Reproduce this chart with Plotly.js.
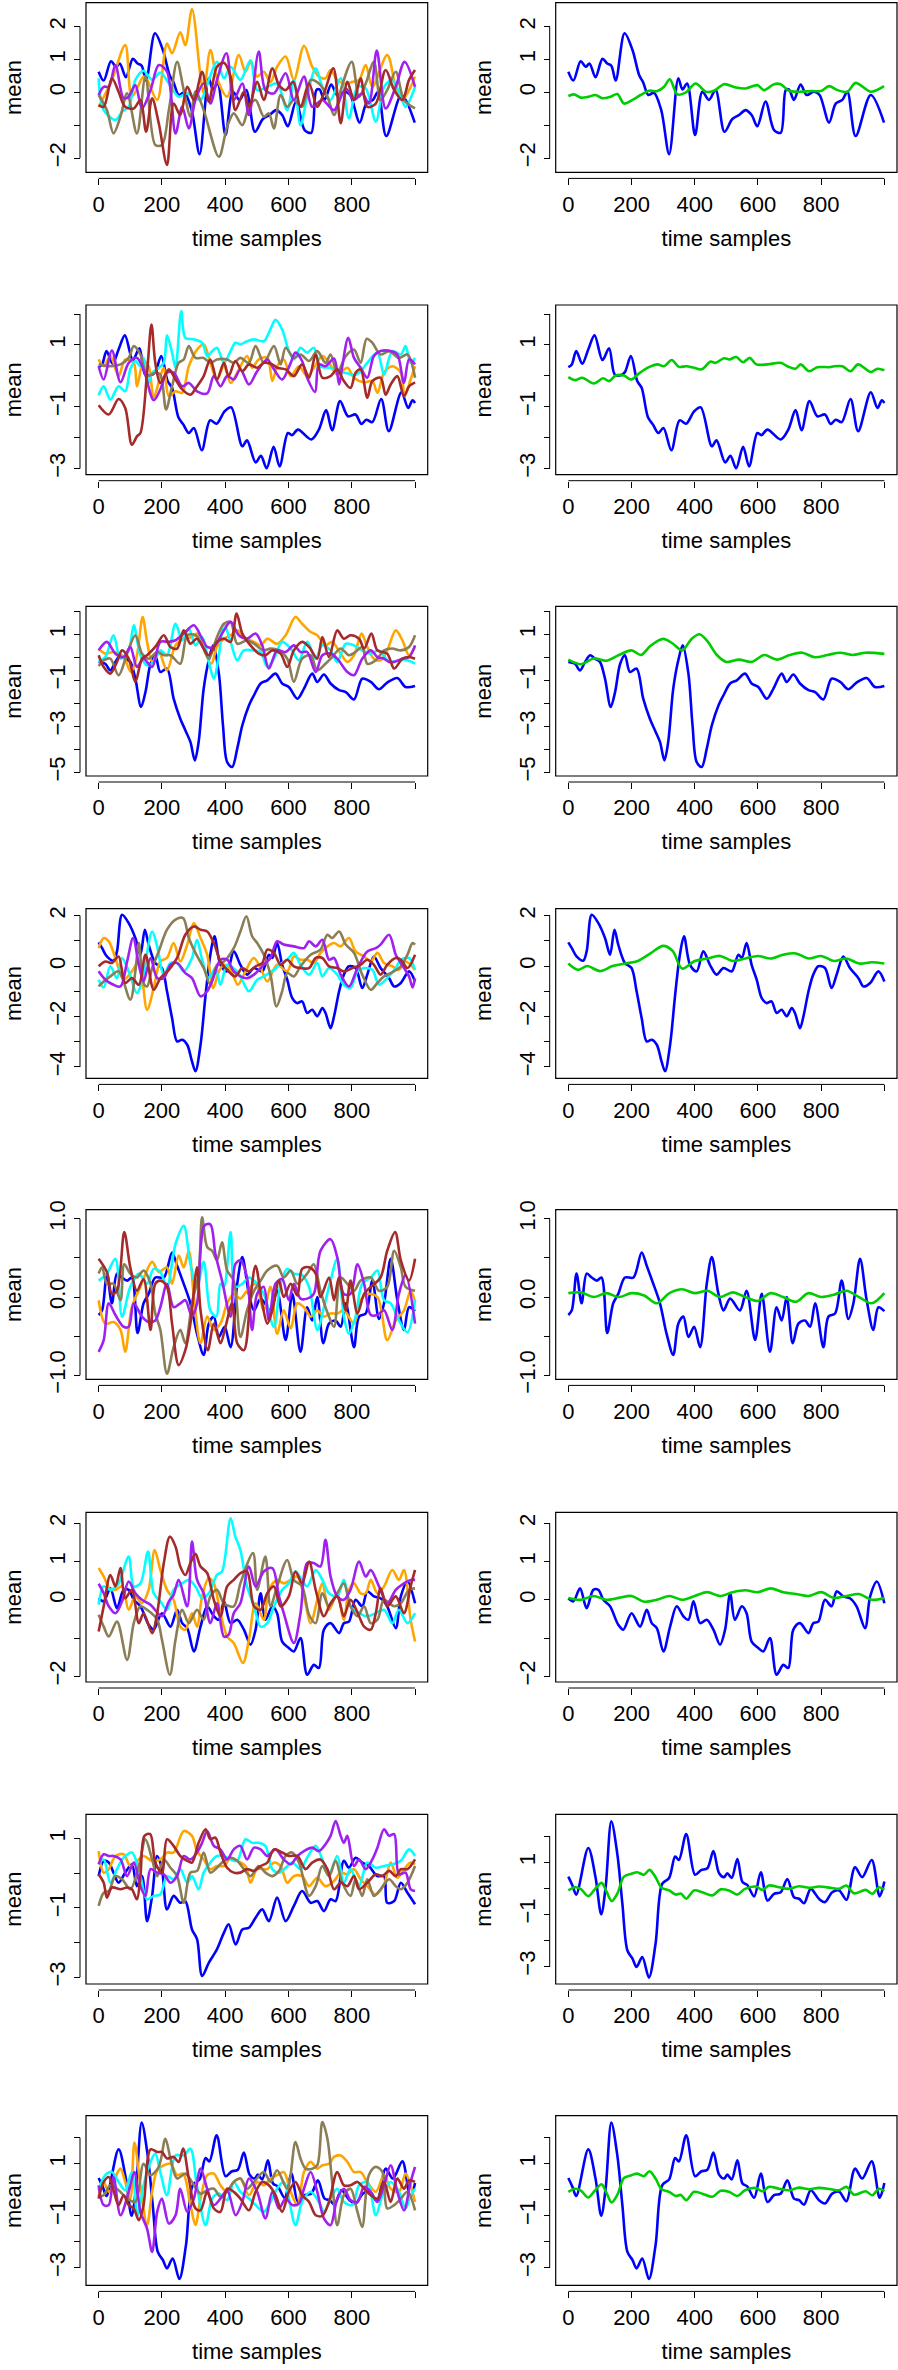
<!DOCTYPE html>
<html><head><meta charset="utf-8">
<script src="https://cdn.plot.ly/plotly-3.0.1.min.js"></script>
<style>html,body{margin:0;padding:0;background:#fff}#chart{width:898px;height:2370px}</style>
</head><body><div id="chart"></div>
<script>
// ---------- data (time sample, mean) ----------
const timeTicks = [0, 200, 400, 600, 800, 1000];
const timeLabels = ['0', '200', '400', '600', '800', ''];

const yTicks1 = [-2, -1, 0, 1, 2];            const yLabels1 = ['−2', '', '0', '1', '2'];
const yTicks2 = [-3, -2, -1, 0, 1, 2];        const yLabels2 = ['−3', '', '−1', '', '1', ''];
const yTicks3 = [-5, -4, -3, -2, -1, 0, 1, 2]; const yLabels3 = ['−5', '', '−3', '', '−1', '', '1', ''];
const yTicks4 = [-4, -3, -2, -1, 0, 1, 2];    const yLabels4 = ['−4', '', '−2', '', '0', '', '2'];
const yTicks5 = [-1, -0.5, 0, 0.5, 1];        const yLabels5 = ['−1.0', '', '0.0', '', '1.0'];
const yTicks6 = [-2, -1, 0, 1, 2];            const yLabels6 = ['−2', '', '0', '1', '2'];
const yTicks7 = [-3, -2, -1, 0, 1];           const yLabels7 = ['−3', '', '−1', '', '1'];
const yTicks8 = [-3, -2, -1, 0, 1, 2];        const yLabels8 = ['−3', '', '−1', '', '1', ''];

const r1Blue = [[0,0.63],[16,0.36],[39,0.95],[55,0.78],[67,0.88],[86,0.46],[108,1.02],[123,0.88],[136,0.81],[150,0.36],[178,1.8],[203,1.29],[224,0.53],[237,0.3],[253,-0.08],[271,-0.01],[294,-0.54],[319,-1.88],[348,0.43],[361,0.09],[376,0.27],[401,-1.3],[424,0.02],[445,-0.23],[466,0.07],[494,-1.2],[519,-0.81],[540,-0.69],[561,-0.54],[580,-0.69],[598,-1.03],[624,-0.28],[651,-1.15],[672,-1.23],[688,0.07],[698,0.09],[714,-0.23],[735,0.24],[754,-0.08],[777,0.02],[795,-0.08],[825,-0.92],[846,-0.34],[867,-0.23],[883,0.02],[909,-1.33],[957,-0.08],[999,-0.92]];
const r1Orange = [[0,-0.44],[42,0.38],[84,1.44],[105,-0.13],[142,0.48],[153,0.38],[185,-0.23],[216,1.49],[232,1.19],[258,1.83],[274,1.44],[295,2.54],[322,0.48],[332,-0.03],[353,1.29],[374,0.43],[406,-0.13],[443,1.14],[464,0.63],[480,0.93],[501,0.48],[522,0.63],[543,0.32],[564,0.78],[591,1.09],[617,0.38],[649,1.42],[675,0.78],[696,0.48],[717,0.43],[733,0.68],[754,0.38],[775,0.27],[802,0.32],[823,0.38],[844,0.83],[865,0.17],[912,1.14],[939,0.17],[960,-0.23],[981,0.07],[1000,0.48]];
const r1Cyan = [[0,0.43],[16,-0.54],[53,-0.84],[74,-0.59],[95,-0.44],[116,0.38],[142,0.66],[169,0.38],[195,0.6],[222,0.27],[253,-0.13],[280,-0.03],[322,-0.23],[348,0.38],[374,0.93],[396,0.43],[417,0.78],[448,0.38],[480,0.98],[501,0.07],[533,0.17],[564,0.27],[596,-0.54],[617,0.38],[638,-1.0],[659,-0.13],[686,0.73],[707,0.17],[733,-0.23],[765,0.43],[791,-0.79],[818,0.17],[844,0.12],[876,-0.89],[902,0.17],[928,0.38],[955,-0.13],[970,-0.44],[1000,0.17]];
const r1Olive = [[0,-0.08],[26,-0.54],[47,-1.25],[69,-0.74],[90,-0.03],[121,-1.25],[148,0.48],[179,-1.6],[200,-1.6],[222,-0.54],[248,0.93],[269,0.07],[290,-0.74],[306,0.03],[332,-0.54],[380,-1.96],[406,-1.05],[427,-0.64],[454,-1.0],[475,-0.44],[496,-0.23],[522,-0.74],[538,-0.64],[554,-1.1],[575,-0.08],[596,-0.44],[617,-0.23],[643,-0.44],[670,0.38],[696,0.27],[723,-0.13],[744,-0.69],[765,0.07],[800,0.93],[823,-0.13],[844,0.27],[870,0.93],[891,-0.23],[912,0.07],[939,0.63],[965,-0.23],[1000,-0.49]];
const r1Purple = [[0,-0.08],[16,0.17],[32,0.17],[53,0.83],[79,-0.18],[95,-0.13],[116,0.22],[137,-0.49],[164,0.07],[190,0.83],[216,0.63],[243,-1.25],[264,-0.44],[285,-1.1],[306,-0.23],[332,0.27],[353,-0.34],[374,0.38],[404,1.19],[427,-0.23],[454,0.27],[475,-0.69],[506,1.24],[527,0.07],[554,-0.03],[591,0.58],[617,-0.23],[649,0.48],[675,-0.44],[707,-0.23],[744,-0.54],[781,0.12],[807,-0.23],[833,-0.03],[854,-0.34],[879,1.27],[907,-0.49],[939,0.17],[967,0.93],[1000,0.17]];
const r1Brown = [[0,-0.39],[16,-0.44],[42,0.43],[63,0.02],[84,-0.44],[111,-0.49],[132,-0.23],[150,-1.2],[169,-0.18],[190,-0.94],[216,-2.21],[237,-0.34],[258,-0.69],[280,0.17],[301,-0.23],[327,0.63],[348,-0.28],[374,0.78],[396,0.9],[417,0.48],[432,-0.54],[459,0.02],[475,-0.44],[501,0.32],[522,-0.23],[549,0.73],[570,0.22],[591,0.07],[615,0.32],[638,-0.44],[665,0.27],[691,-0.44],[712,-0.03],[742,0.73],[765,-0.94],[786,0.32],[807,-0.23],[828,0.43],[849,-0.44],[876,-0.34],[907,0.68],[934,0.07],[960,-0.23],[981,0.38],[1000,0.68]];
const r1Green = [[0,-0.11],[18,-0.06],[39,-0.16],[65,-0.13],[86,-0.08],[108,-0.18],[134,-0.13],[155,-0.05],[176,-0.34],[203,-0.23],[229,-0.08],[255,0.05],[282,0.04],[303,0.17],[321,0.4],[345,-0.06],[371,-0.01],[403,0.27],[435,0.02],[461,0.05],[493,0.25],[530,0.15],[561,0.12],[598,0.22],[619,0.07],[651,0.25],[672,0.25],[698,0.05],[730,0.02],[772,0.04],[799,0.04],[825,0.19],[851,0.07],[883,0.02],[909,0.29],[957,0.02],[999,0.19]];

const r2Blue = [[0,0.28],[11,0.37],[25,0.8],[44,0.39],[63,0.85],[83,1.31],[108,0.51],[129,0.89],[147,0.04],[166,0.02],[179,0.12],[198,0.64],[218,-0.17],[232,-0.39],[252,-1.34],[268,-1.58],[285,-1.85],[301,-1.69],[326,-2.41],[352,-1.44],[373,-1.55],[398,-1.15],[419,-1.02],[454,-2.28],[469,-2.09],[496,-2.8],[513,-2.59],[531,-2.99],[553,-2.3],[572,-2.93],[598,-1.85],[611,-1.92],[630,-1.74],[672,-2.06],[696,-1.74],[719,-1.11],[738,-1.76],[763,-0.82],[788,-1.31],[812,-1.25],[830,-1.56],[846,-1.42],[865,-1.5],[893,-0.75],[917,-1.79],[957,-0.53],[978,-1.04],[992,-0.79],[1000,-0.88]];
const r2Orange = [[0,0.53],[16,0.31],[37,0.64],[63,-0.01],[84,0.53],[111,0.42],[121,-0.34],[142,0.48],[158,0.31],[174,-0.71],[195,-0.01],[206,0.26],[222,-0.66],[243,-0.5],[264,-0.55],[285,0.31],[311,0.85],[332,1.02],[353,0.42],[374,-0.12],[396,0.31],[417,-0.23],[438,0.1],[469,0.64],[485,0.26],[506,0.53],[533,0.58],[549,-0.17],[564,0.31],[585,0.53],[607,-0.01],[633,0.31],[659,-0.01],[680,0.26],[707,0.64],[728,0.42],[754,0.04],[786,0.26],[807,-0.06],[839,-0.21],[865,-0.17],[881,-0.55],[902,0.1],[928,0.31],[955,0.1],[967,-0.66],[986,-0.12],[1000,0.31]];
const r2Cyan = [[0,-0.63],[16,-0.34],[37,-0.77],[63,-0.34],[84,-0.5],[100,0.21],[116,0.48],[132,0.31],[142,0.58],[158,-0.23],[169,0.1],[190,0.26],[206,0.42],[216,1.31],[232,0.75],[243,0.26],[261,2.1],[274,1.23],[301,1.18],[327,1.07],[343,0.64],[359,0.8],[374,0.91],[396,0.42],[417,0.8],[432,1.07],[448,1.02],[469,1.12],[490,1.18],[522,1.12],[538,1.39],[559,1.81],[580,1.5],[601,0.8],[617,0.53],[638,0.91],[659,0.75],[680,0.91],[701,0.31],[733,0.26],[760,0.15],[786,0.08],[807,0.02],[828,0.15],[849,0.42],[881,0.75],[902,0.04],[928,0.8],[955,0.69],[970,0.96],[986,0.42],[1000,0.58]];
const r2Olive = [[0,0.37],[37,0.31],[69,0.37],[95,0.58],[111,0.96],[132,0.69],[153,-0.01],[179,0.1],[195,0.04],[213,-1.09],[232,-0.34],[253,0.42],[269,0.53],[285,0.96],[306,0.58],[332,0.58],[353,0.42],[374,0.53],[406,0.53],[427,0.42],[448,0.58],[475,0.42],[496,0.96],[522,0.42],[554,0.96],[575,0.37],[591,0.91],[617,0.58],[638,0.69],[665,0.48],[691,0.8],[717,0.42],[733,0.69],[754,0.1],[781,0.64],[807,0.85],[828,0.42],[847,1.2],[865,1.07],[891,0.69],[918,0.8],[949,0.58],[976,0.69],[1000,-0.06]];
const r2Purple = [[0,0.31],[16,-0.12],[42,0.82],[69,-0.21],[95,0.42],[121,0.58],[142,0.21],[174,-0.79],[195,-0.44],[216,0.1],[237,0.1],[264,-0.34],[285,-0.23],[311,-0.5],[343,-0.57],[364,-0.01],[385,-0.34],[406,-0.01],[427,-0.12],[448,0.21],[475,-0.28],[501,0.15],[533,0.53],[554,0.21],[580,-0.12],[607,0.42],[622,0.75],[643,0.48],[659,-0.06],[684,-0.52],[696,0.37],[717,0.31],[744,0.56],[760,-0.28],[770,0.31],[789,1.23],[807,0.58],[828,0.26],[849,-0.06],[870,0.64],[891,0.8],[923,0.8],[944,0.69],[965,-0.23],[981,0.53],[1000,0.37]];
const r2Brown = [[0,-0.95],[32,-1.25],[63,-0.75],[84,-1.04],[105,-2.23],[121,-1.96],[132,-1.85],[153,0.1],[167,1.66],[179,0.42],[195,-0.23],[222,0.21],[243,-0.12],[264,-0.44],[290,-0.61],[311,-0.34],[332,-0.01],[353,0.53],[374,-0.12],[396,0.42],[411,-0.01],[432,0.48],[454,0.15],[475,0.37],[501,0.26],[522,0.42],[549,0.37],[564,0.26],[591,0.21],[617,-0.01],[643,0.37],[665,-0.06],[686,0.69],[707,-0.06],[733,-0.01],[754,0.21],[775,-0.17],[796,-0.39],[812,0.1],[828,0.21],[849,-0.71],[865,-0.17],[891,-0.06],[907,-0.61],[923,-0.28],[944,-0.01],[965,-0.66],[981,-0.34],[1000,-0.21]];
const r2Green = [[0,-0.04],[23,-0.14],[44,-0.06],[81,-0.25],[110,-0.08],[129,-0.17],[150,0.01],[176,0.01],[198,-0.12],[224,0.08],[255,0.28],[282,0.37],[303,0.31],[327,0.51],[350,0.29],[373,0.31],[398,0.26],[422,0.21],[450,0.46],[466,0.42],[493,0.57],[510,0.53],[531,0.61],[553,0.44],[574,0.58],[595,0.37],[630,0.37],[672,0.42],[693,0.31],[719,0.23],[735,0.37],[762,0.15],[788,0.28],[825,0.28],[841,0.31],[867,0.31],[893,0.15],[917,0.37],[957,0.12],[978,0.23],[1000,0.18]];

const r3Blue = [[0,-0.2],[21,-0.28],[37,-0.57],[53,-0.2],[69,0.09],[84,-0.06],[100,-0.2],[116,-0.93],[134,-2.16],[148,-1.51],[164,-0.28],[179,0.09],[195,-0.64],[216,-0.49],[237,-1.8],[258,-2.67],[274,-3.17],[290,-3.68],[304,-4.48],[316,-3.68],[332,-1.36],[348,-0.13],[362,0.52],[380,-0.71],[393,-2.96],[406,-4.55],[422,-4.77],[438,-3.97],[454,-2.96],[475,-2.09],[491,-1.65],[512,-1.14],[533,-1.0],[559,-0.71],[580,-1.14],[601,-1.29],[628,-1.8],[649,-1.36],[675,-0.71],[691,-1.07],[712,-0.75],[733,-1.14],[760,-1.43],[781,-1.51],[807,-1.83],[833,-0.93],[860,-1.07],[886,-1.39],[912,-1.1],[944,-0.9],[970,-1.29],[1000,-1.25]];
const r3Orange = [[0,0.38],[21,0.16],[47,0.23],[79,0.01],[102,-0.64],[121,0.09],[139,1.75],[153,0.67],[169,-0.2],[190,0.23],[216,-0.57],[243,0.52],[269,0.81],[295,0.88],[311,1.03],[332,0.38],[356,-0.28],[374,0.45],[396,0.81],[417,0.96],[438,1.17],[459,0.88],[491,0.67],[512,0.52],[533,0.81],[564,0.59],[591,0.96],[622,1.75],[643,1.46],[670,1.1],[691,0.96],[717,0.52],[738,0.67],[765,0.16],[786,-0.2],[807,0.09],[831,1.03],[849,0.45],[870,-0.06],[891,-0.13],[912,0.3],[939,1.17],[960,0.74],[981,0.09],[1000,0.45]];
const r3Cyan = [[0,-0.2],[21,0.01],[47,0.96],[69,-0.06],[95,0.3],[111,1.39],[132,0.09],[153,-0.35],[174,-0.2],[195,0.3],[216,0.09],[243,1.46],[264,0.74],[285,1.25],[306,0.52],[327,0.88],[348,-0.2],[364,-0.93],[380,0.09],[396,1.46],[417,0.67],[438,-0.13],[459,0.3],[491,0.3],[512,0.23],[533,-0.42],[554,-0.06],[580,0.67],[607,0.38],[633,-0.13],[659,0.67],[686,-0.06],[707,0.52],[733,0.3],[754,-0.2],[781,0.59],[807,0.52],[833,0.3],[860,0.16],[886,0.3],[918,-0.2],[949,-0.13],[976,-0.13],[1000,-0.28]];
const r3Olive = [[0,-0.38],[16,-0.13],[37,-0.06],[63,-0.78],[90,0.16],[116,0.96],[137,0.16],[158,-0.06],[185,0.23],[206,0.09],[227,0.09],[258,-0.28],[280,0.96],[306,0.96],[327,0.52],[348,-0.06],[374,0.88],[396,1.46],[417,1.54],[438,0.59],[469,0.74],[491,0.59],[522,0.3],[543,0.38],[570,0.3],[596,-0.06],[617,-1.07],[643,-0.06],[670,0.09],[691,-0.57],[717,-0.28],[738,0.01],[765,0.38],[791,0.09],[812,0.23],[833,0.45],[849,-0.28],[876,-0.13],[902,0.3],[928,0.38],[955,0.3],[981,0.45],[1000,0.96]];
const r3Purple = [[0,0.3],[26,0.67],[53,0.16],[79,0.01],[100,0.45],[121,-0.42],[142,-0.06],[169,-0.42],[195,0.67],[222,0.67],[243,0.74],[274,1.1],[301,1.39],[327,0.81],[343,0.45],[364,0.45],[390,1.03],[417,1.54],[443,0.96],[469,0.81],[496,1.03],[517,0.52],[538,-0.49],[564,0.3],[591,0.23],[617,0.52],[638,0.23],[659,0.23],[686,-0.64],[707,0.09],[733,0.16],[754,-0.06],[786,-0.64],[807,-0.78],[833,-0.06],[860,0.3],[881,0.01],[902,-0.06],[918,-0.2],[934,-0.2],[960,-0.06],[981,0.01],[1000,0.52]];
const r3Brown = [[0,0.09],[16,-0.42],[37,-0.71],[58,-0.2],[74,0.3],[95,-0.06],[116,-1.07],[137,-0.06],[153,0.09],[179,0.45],[206,0.96],[227,0.45],[248,0.38],[269,1.17],[290,0.59],[311,0.81],[332,0.38],[348,0.09],[374,0.67],[396,0.81],[417,0.67],[436,1.9],[454,1.03],[480,0.52],[506,0.16],[527,0.09],[549,0.3],[575,0.16],[596,-0.42],[617,0.3],[643,0.67],[665,0.45],[691,-0.06],[707,0.88],[728,0.01],[754,1.17],[775,0.81],[796,0.96],[823,0.81],[839,0.38],[862,1.03],[881,0.3],[912,0.16],[934,-0.49],[960,-0.06],[981,0.01],[1000,-0.06]];
const r3Green = [[0,-0.1],[40,-0.3],[80,-0.05],[120,-0.15],[160,0.1],[200,0.3],[230,0.1],[260,0.5],[300,0.8],[330,0.6],[360,0.3],[390,0.8],[415,1.0],[440,0.7],[470,0.1],[500,-0.2],[540,-0.1],[580,-0.2],[620,0.1],[660,-0.1],[700,0.1],[740,0.2],[780,0.0],[820,0.1],[860,0.2],[900,0.1],[940,0.2],[1000,0.15]];

const r4Blue = [[0,0.94],[11,0.71],[26,0.38],[47,0.21],[58,0.58],[74,2.03],[95,1.7],[116,1.11],[132,0.45],[146,1.44],[158,0.85],[179,0.12],[200,-0.08],[216,-1.0],[232,-2.06],[248,-2.99],[264,-2.92],[280,-3.12],[295,-3.78],[306,-4.17],[322,-3.12],[338,-1.14],[353,0.45],[366,1.18],[385,0.05],[406,-0.21],[427,0.58],[448,0.05],[469,-0.34],[491,-0.08],[517,-0.21],[538,0.45],[549,0.32],[564,0.91],[580,0.05],[596,-0.54],[612,-1.27],[628,-1.47],[643,-1.4],[659,-1.86],[675,-1.73],[691,-1.99],[707,-1.66],[717,-1.86],[733,-2.46],[744,-1.99],[760,-1.0],[775,-0.34],[791,-0.01],[812,-0.08],[833,-0.87],[849,-0.34],[870,0.38],[891,-0.08],[918,-0.48],[934,-0.81],[955,-0.67],[981,-0.21],[1000,-0.61]];
const r4Orange = [[0,0.71],[16,1.11],[32,0.98],[53,0.32],[79,-0.54],[105,-0.21],[127,0.18],[153,-1.73],[174,-0.87],[195,0.18],[216,0.32],[237,0.91],[258,0.18],[280,0.85],[301,1.7],[322,1.11],[343,0.45],[362,-0.87],[380,-0.21],[396,0.05],[417,-0.15],[440,-0.74],[459,-0.34],[490,0.32],[512,-0.08],[533,-0.61],[564,0.05],[596,-0.21],[617,0.38],[638,0.25],[659,0.25],[680,0.12],[701,0.52],[723,0.78],[744,0.91],[765,0.78],[791,1.11],[812,0.58],[839,0.38],[860,0.18],[881,0.52],[902,0.12],[928,-0.01],[949,-0.15],[970,0.18],[1000,-0.15]];
const r4Cyan = [[0,-0.54],[16,-0.85],[37,-0.01],[58,-0.48],[74,0.32],[95,-0.21],[121,-1.07],[137,-0.61],[169,1.37],[185,0.78],[206,-0.34],[227,0.12],[248,0.12],[269,-0.21],[295,0.32],[311,1.04],[327,0.25],[348,-0.48],[369,-0.08],[385,-0.74],[406,0.05],[432,-0.15],[448,-0.41],[475,-1.0],[501,-0.54],[522,-0.41],[554,-0.15],[580,0.12],[596,0.25],[617,0.52],[638,0.05],[665,-0.34],[691,0.12],[707,-0.41],[728,-0.08],[754,-0.34],[775,-0.74],[796,-0.87],[818,-0.21],[839,-0.08],[865,-0.15],[886,-0.74],[912,-0.48],[939,-0.08],[955,0.25],[981,0.32],[1000,-0.15]];
const r4Olive = [[0,-0.81],[16,-0.61],[37,-0.41],[63,-0.21],[100,-1.33],[116,-0.21],[127,0.91],[142,-0.67],[153,-0.81],[169,-0.08],[190,0.58],[216,1.44],[243,1.84],[267,1.9],[285,1.11],[306,0.52],[332,-0.08],[353,-0.74],[374,0.05],[396,0.18],[427,0.71],[448,1.37],[467,1.97],[485,1.18],[501,0.91],[522,0.45],[543,-0.34],[562,-1.6],[580,-1.0],[596,-0.28],[617,-0.41],[638,-0.01],[670,0.45],[701,0.65],[723,1.24],[738,1.11],[760,1.37],[781,0.85],[807,0.52],[833,-0.34],[860,-0.94],[881,-0.67],[902,-0.41],[923,-0.28],[955,-0.01],[976,0.45],[992,0.91],[1000,0.85]];
const r4Purple = [[0,-0.21],[21,-0.54],[47,-0.74],[69,-0.81],[90,0.18],[109,1.11],[127,0.05],[142,-0.61],[164,0.32],[185,-0.48],[206,-0.48],[227,0.05],[248,0.12],[274,-0.28],[295,-0.48],[322,-1.2],[343,-1.0],[364,-0.41],[385,0.25],[406,0.25],[427,-0.21],[448,-0.41],[469,-0.48],[491,-0.34],[522,0.05],[543,0.32],[564,0.98],[585,0.85],[617,0.78],[649,0.71],[665,0.98],[686,0.78],[707,1.04],[728,0.25],[744,0.32],[765,-0.34],[791,-0.81],[818,-0.08],[849,0.58],[876,0.71],[891,0.85],[918,1.24],[939,0.45],[955,0.12],[981,-0.41],[992,-0.85],[1000,-0.48]];
const r4Brown = [[0,-0.01],[21,0.18],[42,0.12],[63,0.38],[84,-0.67],[105,-0.48],[127,-0.74],[148,0.45],[174,-0.94],[195,-0.48],[222,-0.15],[248,0.32],[274,1.24],[301,1.57],[322,1.44],[343,1.37],[364,0.91],[385,0.18],[406,-0.15],[432,-0.41],[454,-0.08],[475,-0.21],[496,-0.01],[517,0.12],[533,0.65],[554,0.52],[575,0.05],[596,0.25],[617,-0.01],[638,-0.08],[665,-0.08],[686,0.32],[707,0.32],[728,-0.01],[754,-0.08],[775,-0.21],[802,-0.08],[828,0.05],[849,0.25],[870,0.05],[891,-0.34],[912,0.05],[939,0.32],[955,0.25],[976,-0.08],[1000,0.45]];
const r4Green = [[0,0.1],[30,-0.15],[60,0],[100,-0.2],[140,0],[180,0.1],[220,0.2],[260,0.5],[300,0.8],[330,0.6],[360,-0.1],[400,0.2],[440,0.3],[480,0.4],[520,0.2],[560,0.3],[600,0.4],[640,0.3],[680,0.45],[720,0.5],[760,0.3],[800,0.4],[840,0.2],[880,0.3],[920,0.1],[960,0.15],[1000,0.1]];

const r5Blue = [[0,-0.23],[11,-0.17],[26,0.3],[42,-0.08],[58,0.3],[74,0.25],[90,0.21],[105,0.25],[123,-0.46],[142,-0.08],[158,0.04],[179,0.25],[206,0.25],[232,0.57],[248,0.4],[267,0.19],[290,-0.08],[311,-0.47],[332,-0.74],[348,-0.34],[364,-0.25],[380,-0.51],[398,-0.38],[417,-0.64],[438,0.17],[454,0.51],[475,0.04],[491,-0.17],[512,-0.02],[543,-0.17],[564,0.08],[591,-0.55],[612,0.04],[638,-0.7],[659,-0.13],[675,-0.3],[691,0],[710,-0.59],[728,-0.34],[749,-0.3],[765,-0.38],[781,-0.08],[807,-0.64],[823,-0.25],[844,-0.21],[865,0.21],[886,-0.28],[902,-0.08],[923,0.49],[944,-0.04],[965,-0.42],[981,-0.13],[1000,-0.18]];
const r5Orange = [[0,-0.04],[21,-0.34],[47,-0.32],[69,-0.42],[84,-0.7],[105,-0.13],[132,0.13],[169,0.45],[190,0.32],[216,0.38],[232,0.17],[253,0.53],[269,0.38],[285,0.59],[301,0],[322,-0.59],[343,-0.25],[364,-0.42],[385,-0.34],[406,-0.08],[427,0.04],[448,-0.02],[469,0.08],[496,0.17],[522,-0.17],[543,0.13],[564,-0.47],[585,-0.17],[607,-0.4],[628,-0.08],[649,-0.13],[670,-0.25],[691,-0.17],[712,-0.25],[733,-0.21],[754,-0.21],[775,-0.17],[807,-0.34],[828,-0.04],[849,0.04],[881,0],[912,-0.55],[939,-0.3],[965,-0.17],[986,0.08],[1000,-0.06]];
const r5Cyan = [[0,0.21],[26,0.3],[53,0.49],[74,-0.25],[100,0.13],[127,0.3],[153,0.17],[174,0.36],[195,0.32],[216,0.13],[243,0.68],[269,0.91],[290,0.42],[311,0.13],[332,0.45],[353,-0.17],[372,-0.25],[385,0.17],[396,0.13],[417,0.83],[432,0.13],[454,0.17],[475,0.25],[501,0.17],[522,0.04],[554,-0.38],[575,0.17],[596,0.36],[617,0.3],[643,0.28],[665,0.13],[691,-0.42],[712,-0.13],[733,0.21],[754,0.49],[775,-0.25],[791,-0.47],[812,-0.25],[833,0.17],[860,0.25],[881,0.34],[902,-0.04],[923,-0.08],[949,-0.3],[976,-0.45],[1000,-0.04]];
const r5Olive = [[0,0.3],[11,0.38],[26,0.17],[47,0.17],[69,-0.04],[81,0.42],[100,0.3],[121,0.25],[142,0.34],[164,0.17],[179,-0.21],[195,-0.42],[216,-0.98],[237,-0.64],[258,-0.42],[274,-0.59],[295,-0.08],[316,0.3],[327,1.02],[343,0.64],[359,0.59],[374,0.47],[390,0.7],[406,0.34],[427,0.21],[448,-0.51],[469,-0.17],[491,0.08],[512,0.21],[533,0.34],[564,0.4],[585,0.25],[607,0.34],[628,0.17],[659,0.3],[680,0.42],[701,0.08],[728,-0.25],[744,-0.38],[765,0.25],[786,0.17],[807,0.08],[828,0.21],[860,0.25],[886,0.08],[912,0.13],[934,0.59],[955,0.38],[970,0.13],[1000,0.08]];
const r5Purple = [[0,-0.7],[16,-0.55],[32,-0.08],[53,-0.23],[79,-0.38],[95,-0.38],[111,-0.08],[137,-0.25],[158,-0.32],[179,-0.3],[195,-0.13],[216,0.17],[237,-0.13],[258,-0.08],[274,-0.04],[295,-0.25],[311,-0.08],[334,0.91],[353,0.93],[369,0.55],[390,0.21],[417,-0.25],[432,0.42],[448,0.47],[469,0.25],[485,-0.42],[501,0.04],[522,0.13],[538,-0.3],[559,0.17],[580,0.23],[601,-0.04],[617,0.17],[638,-0.02],[659,-0.02],[680,0.04],[701,0.59],[733,0.74],[754,0.51],[775,0.04],[796,0.04],[818,0.42],[839,0.17],[860,-0.23],[881,-0.23],[902,-0.17],[928,-0.42],[949,0.04],[970,0.28],[1000,-0.34]];
const r5Brown = [[0,0.49],[26,0.32],[42,0.04],[58,0.08],[81,0.83],[100,0.38],[121,0.08],[142,0.23],[164,-0.42],[179,0.17],[195,0.21],[216,0.13],[232,-0.34],[253,-0.87],[274,-0.68],[290,-0.34],[311,0.38],[322,-0.17],[345,-0.68],[364,-0.34],[385,-0.59],[401,-0.38],[422,-0.08],[438,-0.59],[459,-0.68],[480,0],[496,0.4],[517,-0.08],[533,-0.34],[549,-0.17],[570,0.21],[585,0],[607,0.17],[628,0.02],[643,0.36],[665,0.38],[686,0.3],[701,0],[728,0.25],[744,-0.04],[759,0.25],[781,-0.17],[796,0.21],[818,-0.21],[839,0.04],[860,0.13],[891,0.25],[912,0.59],[937,0.83],[955,0.47],[981,0.21],[1000,0.49]];
const r5Green = [[0,0.05],[40,0.06],[80,0.0],[120,0.05],[160,0.0],[200,0.05],[240,0.02],[280,-0.08],[320,0.05],[360,0.1],[400,0.05],[440,0.08],[480,0.0],[520,0.06],[560,0.0],[600,-0.05],[640,0.05],[680,0.0],[720,-0.06],[760,0.05],[800,0.0],[840,0.03],[880,0.08],[920,0.0],[960,-0.08],[1000,0.05]];

const r6Blue = [[0,0.04],[16,-0.04],[37,0.3],[58,-0.22],[79,0.26],[95,0.26],[111,0],[132,-0.17],[158,-0.65],[174,-0.78],[200,-0.35],[227,-0.7],[248,-0.26],[264,-0.61],[280,-0.74],[301,-1.35],[322,-0.7],[343,-0.17],[364,-0.43],[380,-0.52],[396,-0.04],[417,-0.61],[438,-0.52],[459,-0.78],[480,-1.17],[496,-0.78],[512,0.17],[527,-0.52],[549,-0.17],[564,-0.35],[580,-1.09],[601,-1.26],[617,-1.35],[638,-1.0],[659,-1.96],[680,-1.7],[696,-1.78],[712,-0.78],[733,-0.61],[760,-0.87],[775,-0.61],[791,-0.57],[812,0],[833,-0.17],[849,0.22],[870,0.09],[891,0.04],[912,-0.17],[939,-0.74],[955,0.09],[976,0.48],[1000,-0.09]];
const r6Orange = [[0,0.83],[16,0.61],[37,0.26],[53,0.26],[74,0.35],[95,-0.26],[116,0.09],[137,-0.09],[158,0.26],[177,1.3],[195,0.78],[216,0.26],[237,0],[258,-0.7],[274,-0.78],[295,-0.35],[311,-0.7],[327,0.09],[348,0.57],[364,0.43],[385,-0.35],[406,-0.96],[427,-1.13],[456,-1.65],[475,-1.04],[496,-0.09],[522,-0.52],[538,0.26],[564,0.52],[585,0.43],[607,0.52],[628,0.61],[649,0.09],[670,-0.61],[691,0],[707,0.43],[728,-0.26],[754,0.17],[775,-0.52],[791,0.26],[807,0.43],[828,0.17],[844,0.17],[860,0.52],[881,0.17],[902,0.35],[928,0.78],[949,0.52],[965,0.78],[986,-0.52],[1000,-1.09]];
const r6Cyan = [[0,-0.13],[16,0.35],[37,0.26],[63,0.43],[95,1.13],[111,0.35],[132,0.43],[156,1.26],[174,0.17],[195,-0.04],[216,-0.26],[237,0.26],[264,0.43],[285,0.52],[306,0.35],[327,0.04],[348,0.17],[374,0.65],[390,0.74],[417,2.13],[432,1.65],[448,1.3],[469,0.35],[491,-0.17],[512,-0.7],[533,-0.61],[554,-0.17],[580,0.26],[601,0.43],[622,0.74],[643,0.52],[659,0.35],[686,0.78],[707,0.52],[728,0.17],[754,0.09],[775,0.52],[796,-0.17],[823,-0.35],[849,-0.43],[876,-0.35],[902,-0.26],[928,-0.61],[949,-0.26],[976,-0.61],[1000,-0.35]];
const r6Olive = [[0,-0.39],[16,-0.7],[32,-0.96],[58,-0.57],[90,-1.57],[111,-0.61],[132,-0.17],[153,-0.26],[185,-0.52],[200,-1.04],[225,-1.96],[243,-1.04],[264,-0.26],[285,-0.61],[311,-0.26],[332,-0.52],[353,0.09],[374,0.26],[396,-0.09],[427,-0.17],[448,0.43],[488,1.22],[501,0.26],[527,1.13],[543,-0.17],[564,0.35],[596,1.04],[617,0.52],[643,0.35],[665,-0.39],[686,-0.61],[707,0.17],[728,-0.17],[754,0.17],[775,0.43],[796,-0.17],[818,-0.43],[839,-0.17],[860,-0.61],[881,-0.52],[902,0],[934,-0.17],[955,-0.09],[981,0.26],[1000,0.3]];
const r6Purple = [[0,0.42],[16,0.17],[32,-0.17],[53,-0.35],[74,-0.04],[95,0.48],[116,0.17],[137,0],[164,-0.13],[200,-0.43],[222,-0.04],[237,0.13],[253,0.52],[280,-0.17],[295,1.52],[311,0.52],[332,0.17],[353,-0.61],[374,-0.09],[396,-0.96],[411,-0.91],[427,-0.35],[448,-0.09],[475,0.87],[496,0.35],[522,0.74],[549,0.83],[570,0.09],[585,-0.35],[617,-1.13],[638,-0.35],[659,0.96],[680,0.96],[701,0.87],[717,1.57],[733,0.61],[754,0.09],[775,0],[796,0.26],[823,1.0],[844,0.61],[860,0.78],[886,0.35],[912,-0.09],[939,0.26],[965,0.43],[986,0.52],[1000,0.52]];
const r6Brown = [[0,-0.83],[16,-0.17],[37,0.65],[53,0.35],[69,0.83],[84,0.04],[105,0.26],[127,-0.61],[142,-0.35],[169,-0.87],[185,-0.35],[206,0.96],[225,1.65],[243,1.39],[258,0.87],[274,0.65],[290,0.96],[306,1.2],[322,0.87],[343,0.7],[364,0],[385,-0.43],[406,0.35],[427,0.52],[448,0.7],[469,0.74],[491,-0.17],[512,-0.26],[533,0.17],[554,0.35],[575,-0.17],[601,0.09],[622,0.74],[643,0.43],[665,1.0],[686,0.26],[712,-0.43],[733,-0.09],[754,0.09],[775,-0.43],[796,0],[823,-0.43],[839,-0.7],[860,-0.78],[876,-0.35],[891,0.3],[912,-0.17],[939,0.09],[965,-0.35],[986,0.35],[1000,0.78]];
const r6Green = [[0,0.05],[40,0.0],[80,0.1],[120,0.0],[160,0.05],[200,0.1],[240,-0.05],[280,0.0],[320,0.1],[360,0.0],[400,0.1],[440,0.2],[480,0.1],[520,0.2],[560,0.25],[600,0.2],[640,0.3],[680,0.2],[720,0.15],[760,0.1],[800,0.2],[840,0.05],[880,0.1],[920,0.15],[960,0.0],[1000,0.05]];

const r7Blue = [[0,-0.08],[16,0.36],[32,0.31],[47,0.02],[63,-0.27],[84,0.02],[105,0.26],[121,-0.37],[137,-0.08],[153,-1.38],[169,-0.65],[185,0.5],[200,0.12],[216,-1.04],[237,-0.65],[258,-0.85],[274,-0.8],[295,-1.62],[311,-1.9],[327,-2.96],[348,-2.58],[374,-2.19],[396,-1.71],[411,-1.47],[433,-2.05],[454,-1.62],[475,-1.57],[496,-1.28],[517,-1.04],[538,-1.38],[564,-0.7],[591,-1.38],[617,-0.94],[643,-0.51],[670,-0.85],[691,-0.8],[712,-1.09],[733,-0.75],[749,-0.8],[775,0.36],[791,0.16],[812,0.45],[833,0.31],[854,0.21],[881,-0.08],[902,-0.08],[912,-0.85],[934,-0.8],[955,-0.27],[976,-0.56],[1000,-0.89]];
const r7Orange = [[0,0.64],[16,0.02],[32,0.12],[53,0.5],[79,0.55],[100,0.21],[121,0.36],[142,0.5],[169,0.36],[195,0.4],[216,0.6],[237,0.6],[269,1.22],[295,1.08],[311,0.64],[332,0.4],[353,0.12],[374,0.21],[396,0.21],[417,0.45],[438,0.36],[464,0.21],[480,-0.27],[501,0.12],[533,0.12],[554,0.31],[575,0.21],[596,-0.27],[617,-0.08],[643,-0.08],[665,-0.37],[691,-0.13],[717,-0.37],[744,-0.22],[765,0.02],[786,-0.03],[807,0.12],[828,-0.17],[849,-0.37],[876,-0.61],[902,-0.32],[923,0.31],[944,-0.13],[965,0.12],[986,0.31],[1000,0.26]];
const r7Cyan = [[0,0.26],[16,0.4],[37,-0.27],[58,0.12],[79,0.45],[105,0.6],[127,0.12],[153,-0.75],[174,-0.65],[195,-0.61],[216,-0.08],[237,-0.17],[258,0.12],[280,-0.27],[295,-0.08],[316,-0.46],[332,0.02],[353,0.31],[374,0.5],[396,0.5],[417,0.4],[438,0.36],[464,0.98],[485,0.88],[506,0.88],[527,0.79],[549,0.12],[570,0.02],[591,0.16],[612,0.31],[638,0.12],[659,0.45],[686,0.79],[707,0.4],[728,-0.03],[754,0.5],[775,-0.27],[796,0.12],[823,-0.37],[849,0.31],[876,0.16],[902,0.21],[928,0.26],[955,0.36],[981,0.69],[1000,0.5]];
const r7Olive = [[0,-0.94],[16,-0.56],[32,-0.51],[53,-0.08],[74,-0.17],[100,-0.46],[127,0.21],[148,0.98],[169,0.4],[185,-0.08],[206,0.4],[227,0.16],[248,-0.08],[269,-0.85],[290,0.02],[311,0.07],[332,0.6],[353,0.02],[374,0.16],[396,0.36],[417,0.45],[438,0.36],[459,0.12],[480,-0.08],[506,0.21],[527,0.02],[549,-0.08],[570,0.07],[591,0.5],[612,0.6],[633,0.31],[665,-0.65],[686,-0.37],[707,0.21],[728,-0.08],[749,0.36],[770,-0.27],[796,-0.65],[812,-0.17],[833,-0.65],[849,-0.17],[870,-0.65],[891,-0.46],[918,-0.17],[939,-0.37],[955,-0.46],[976,-0.27],[1000,0.21]];
const r7Purple = [[0,0.26],[16,0.55],[32,0.5],[47,0.5],[69,0.4],[90,-0.08],[111,0.31],[132,-0.37],[148,-0.65],[164,0.12],[185,0.02],[206,-0.03],[227,-0.27],[248,-0.08],[269,0.5],[290,0.4],[311,0.6],[327,0.88],[343,1.22],[364,0.79],[385,0.69],[406,0.4],[427,0.69],[448,0.79],[469,0.4],[491,0.74],[512,0.69],[533,0.5],[559,0.69],[585,0.4],[607,0.26],[628,0.5],[649,0.64],[675,0.74],[696,0.64],[717,0.84],[733,1.08],[749,1.51],[765,1.08],[775,0.88],[786,1.08],[807,0.21],[823,0.4],[844,0.12],[865,0.4],[881,0.74],[902,1.27],[918,1.08],[934,1.13],[949,-0.03],[970,0.02],[986,-0.46],[1000,-0.51]];
const r7Brown = [[0,-0.03],[16,-0.27],[26,-0.7],[42,-0.41],[69,-0.46],[90,-0.41],[105,-0.46],[121,-0.75],[132,-0.08],[145,1.08],[163,1.13],[179,0.31],[200,0.02],[216,0.98],[237,0.79],[258,0.5],[280,0.36],[295,0.31],[316,0.88],[338,1.27],[353,0.98],[369,1.03],[385,0.6],[406,0.16],[427,0.02],[448,0.02],[469,0.12],[491,0.07],[512,0.21],[533,0.31],[554,0.69],[580,0.6],[601,0.5],[628,0.5],[654,0.12],[675,0.31],[701,0.4],[723,0.12],[744,-0.46],[765,-0.27],[786,-0.37],[807,-0.08],[823,-0.46],[849,-0.27],[876,-0.03],[897,-0.08],[918,0.07],[939,-0.08],[955,0.12],[976,0.12],[1000,0.4]];

const r8Blue = [[0,0.45],[13,0.11],[25,-0.24],[63,1.55],[86,0.43],[104,-1.0],[118,0.04],[136,2.58],[155,1.32],[171,-0.59],[187,-2.39],[203,-2.7],[216,-3.02],[234,-2.64],[255,-3.43],[276,-2.13],[297,0.17],[319,0.4],[338,1.22],[350,1.09],[373,2.09],[401,0.52],[420,0.7],[440,0.77],[459,1.43],[477,0.58],[493,0.43],[503,0.58],[517,0.4],[535,1.13],[551,0.24],[566,0.13],[588,-0.31],[609,0.62],[630,-0.47],[651,-0.21],[672,-0.15],[693,0.36],[714,-0.34],[730,-0.4],[746,-0.57],[767,-0.02],[793,-0.4],[812,-0.53],[835,-0.15],[857,-0.08],[880,-0.44],[907,0.81],[930,0.43],[960,1.09],[985,-0.31],[1000,0.26]];
const r8Orange = [[0,-0.27],[16,0.3],[32,-0.08],[47,0.17],[58,0.62],[69,0.81],[84,0.3],[100,-0.34],[113,1.81],[132,0.17],[153,-1.36],[169,-0.08],[185,0.75],[206,0.94],[227,1.0],[248,0.56],[267,0.62],[290,-0.59],[306,-1.36],[322,-0.34],[343,0.56],[364,0.62],[385,0.17],[406,-0.08],[427,0.3],[448,0.43],[475,-0.21],[501,0.3],[522,0.17],[543,0.43],[564,0.56],[585,0.68],[607,-0.08],[628,-0.59],[649,0.68],[670,1.07],[691,0.81],[707,0.94],[728,1.0],[744,1.26],[765,1.32],[786,1.07],[807,0.68],[828,0.68],[849,0.3],[876,-0.08],[902,0.56],[923,0.04],[949,-0.08],[970,0.62],[986,0.17],[1000,-0.47]];
const r8Cyan = [[0,-0.02],[21,0.56],[42,0.68],[63,0.3],[84,-0.02],[105,0.68],[123,-0.98],[142,0.17],[164,1.07],[179,1.39],[195,0.68],[216,-0.21],[243,1.32],[269,1.32],[290,1.58],[311,0.11],[338,-1.36],[359,-0.34],[380,-0.15],[406,-0.4],[427,0.3],[448,-0.08],[475,-0.34],[496,-0.59],[522,-0.85],[543,-0.47],[564,0.04],[585,0.3],[622,-1.36],[643,-0.47],[670,-0.08],[696,-0.47],[712,-0.85],[733,-0.34],[754,0.04],[775,-0.47],[802,-0.59],[823,0.17],[849,0.3],[876,-0.98],[897,-0.21],[923,0.3],[949,-0.08],[970,-0.72],[986,-0.21],[1000,0.04]];
const r8Olive = [[0,-0.27],[16,-0.21],[37,0.17],[63,-0.02],[90,-0.34],[116,-0.47],[142,1.0],[164,0.56],[190,0.88],[211,1.96],[227,1.2],[248,0.43],[274,0.62],[295,0.3],[322,-0.15],[343,-0.02],[364,0.04],[385,-0.27],[406,-0.08],[427,0.3],[448,0.43],[469,0.04],[491,0.3],[522,0.68],[543,0.3],[564,0.75],[596,0.04],[622,1.83],[638,1.2],[654,0.81],[675,0.81],[691,0.94],[707,2.6],[723,1.96],[738,0.3],[754,-1.36],[775,-0.21],[796,0.04],[818,-0.85],[833,-1.43],[854,0.56],[876,0.88],[897,0.68],[912,-0.72],[934,-0.59],[955,-0.34],[976,-0.08],[1000,-0.79]];
const r8Purple = [[0,0.17],[16,-0.59],[32,-0.59],[47,0.49],[69,-0.98],[95,-0.08],[113,0.68],[132,-0.85],[153,-1.49],[169,-2.39],[185,-0.85],[200,-0.34],[222,-1.3],[243,-0.98],[258,0.04],[280,-0.85],[301,-0.34],[322,0.81],[343,0.04],[364,-0.59],[385,-0.34],[406,-0.02],[433,-0.98],[454,-0.47],[475,0.43],[501,-0.08],[527,-1.1],[549,-0.08],[570,-0.72],[591,-0.34],[612,-0.59],[633,-0.53],[649,0.04],[670,0.68],[691,-0.08],[712,-1.1],[733,-1.36],[754,-0.34],[775,0.04],[796,-0.4],[818,-0.47],[839,0.11],[860,-0.08],[881,-0.47],[902,0.17],[923,0.94],[944,-0.08],[965,-0.79],[986,0.3],[1000,0.88]];
const r8Brown = [[0,-0.34],[16,0.3],[32,0.49],[47,-0.02],[63,-0.59],[79,-0.21],[95,-0.59],[111,-0.72],[127,-1.17],[142,-0.59],[164,1.55],[185,1.45],[200,1.45],[216,1.2],[237,1.26],[253,1.07],[267,1.58],[285,0.43],[306,-0.72],[322,-0.79],[343,-0.08],[364,-0.72],[385,-0.85],[406,0.04],[427,-0.08],[448,-0.34],[475,-0.79],[496,-0.08],[517,0.3],[538,0.17],[559,-0.21],[580,-0.85],[601,-0.08],[622,0.3],[643,-0.21],[665,-0.47],[686,-0.98],[707,-1.0],[728,-0.47],[754,0.68],[775,0.17],[796,0.17],[818,0.3],[839,0.04],[860,-0.21],[881,-0.34],[902,0.3],[923,-0.47],[944,0.43],[965,0.04],[981,0.36],[1000,0.3]];
const r8Green = [[0,-0.08],[21,0.04],[39,-0.02],[63,-0.3],[83,-0.05],[105,0.21],[120,-0.1],[137,-0.49],[155,-0.2],[176,0.45],[200,0.56],[218,0.62],[239,0.52],[257,0.71],[276,0.43],[295,0.02],[319,-0.08],[340,-0.24],[356,-0.2],[373,-0.4],[398,-0.08],[424,-0.15],[456,-0.27],[482,-0.04],[508,-0.08],[535,-0.24],[559,-0.02],[593,0.07],[614,-0.06],[635,0.11],[667,0.04],[698,-0.02],[730,0.08],[762,0.02],[793,0.07],[830,0.02],[857,-0.02],[880,0.11],[904,-0.19],[941,-0.06],[962,-0.21],[983,0.04],[1000,-0.06]];

// ---------- styling / layout ----------
const leftColors = ['#0000FF', '#FFA500', '#00FFFF', '#8B7D55', '#A020F0', '#A52A2A'];
const rightColors = ['#0000FF', '#00CD00'];
const FONT = '"Liberation Sans", Arial, Helvetica, sans-serif';
const W = 898, H = 2370;
const rowTop = [2.7, 305, 606.3, 908.7, 1209.7, 1512.3, 1814.3, 2115.7];
const boxH = 169.7;
const colX = [[86, 427.7], [555.7, 897]];
const gap = 6;
const xRange = [-39.96, 1039.96];

const rowsCfg = [
  {L: [r1Blue, r1Orange, r1Cyan, r1Olive, r1Purple, r1Brown], R: [r1Blue, r1Green], yr: [-2.437, 2.731], yt: yTicks1, yl: yLabels1},
  {L: [r2Blue, r2Orange, r2Cyan, r2Olive, r2Purple, r2Brown], R: [r2Blue, r2Green], yr: [-3.2, 2.292], yt: yTicks2, yl: yLabels2},
  {L: [r3Blue, r3Orange, r3Cyan, r3Olive, r3Purple, r3Brown], R: [r3Blue, r3Green], yr: [-5.16, 2.217], yt: yTicks3, yl: yLabels3},
  {L: [r4Blue, r4Orange, r4Cyan, r4Olive, r4Purple, r4Brown], R: [r4Blue, r4Green], yr: [-4.452, 2.272], yt: yTicks4, yl: yLabels4},
  {L: [r5Blue, r5Orange, r5Cyan, r5Olive, r5Purple, r5Brown], R: [r5Blue, r5Green], yr: [-1.053, 1.117], yt: yTicks5, yl: yLabels5},
  {L: [r6Blue, r6Orange, r6Cyan, r6Olive, r6Purple, r6Brown], R: [r6Blue, r6Green], yr: [-2.148, 2.287], yt: yTicks6, yl: yLabels6},
  {L: [r7Blue, r7Orange, r7Cyan, r7Olive, r7Purple, r7Brown], R: [r8Blue, r8Green], yr: [-3.192, 1.702], yt: yTicks7, yl: yLabels7,
   yrR: [-3.676, 2.845], ytR: yTicks8, ylR: yLabels8},
  {L: [r8Blue, r8Orange, r8Cyan, r8Olive, r8Purple, r8Brown], R: [r8Blue, r8Green], yr: [-3.676, 2.845], yt: yTicks8, yl: yLabels8}
];

const data = [];
const layout = {
  width: W, height: H, margin: {l: 0, r: 0, t: 0, b: 0},
  showlegend: false, paper_bgcolor: '#fff', plot_bgcolor: '#fff',
  font: {family: FONT, size: 22, color: '#000'}, shapes: []
};

let n = 0;
rowsCfg.forEach((row, r) => {
  [0, 1].forEach(c => {
    n += 1;
    const sfx = n === 1 ? '' : String(n);
    const xa = 'x' + sfx, ya = 'y' + sfx;
    const series = c === 0 ? row.L : row.R;
    const colors = c === 0 ? leftColors : rightColors;
    const yr = (c === 1 && row.yrR) ? row.yrR : row.yr;
    const yt = (c === 1 && row.ytR) ? row.ytR : row.yt;
    const yl = (c === 1 && row.ylR) ? row.ylR : row.yl;
    series.forEach((s, k) => {
      data.push({
        type: 'scatter', mode: 'lines', xaxis: xa, yaxis: ya,
        x: s.map(d => d[0]), y: s.map(d => d[1]),
        line: {color: colors[k], width: 2.6, shape: 'spline', smoothing: 0.9},
        hoverinfo: 'skip'
      });
    });
    const top = rowTop[r], bot = top + boxH;
    const [x0, x1] = colX[c];
    const xPos = 1 - (bot + gap) / H;
    const yPos = (x0 - gap) / W;
    layout['xaxis' + sfx] = {
      domain: [x0 / W, x1 / W], range: xRange, anchor: 'free', position: xPos,
      tickmode: 'array', tickvals: timeTicks, ticktext: timeLabels,
      ticks: 'outside', ticklen: 6, tickwidth: 1, tickcolor: '#000',
      showline: false, showgrid: false, zeroline: false, fixedrange: true,
      tickfont: {family: FONT, size: 22, color: '#000'},
      title: {text: 'time samples', font: {family: FONT, size: 22, color: '#000'}, standoff: 14}
    };
    layout['yaxis' + sfx] = {
      domain: [1 - bot / H, 1 - top / H], range: yr, anchor: 'free', position: yPos,
      tickmode: 'array', tickvals: yt, ticktext: yl, tickangle: -90,
      ticks: 'outside', ticklen: 6, tickwidth: 1, tickcolor: '#000',
      showline: false, showgrid: false, zeroline: false, fixedrange: true,
      tickfont: {family: FONT, size: 22, color: '#000'},
      title: {text: 'mean', font: {family: FONT, size: 22, color: '#000'}, standoff: 16}
    };
    layout.shapes.push({type: 'rect', xref: xa + ' domain', yref: ya + ' domain', x0: 0, x1: 1, y0: 0, y1: 1,
      line: {color: '#000', width: 1.2}, layer: 'above'});
    layout.shapes.push({type: 'line', xref: xa, yref: 'paper', x0: timeTicks[0], x1: timeTicks[timeTicks.length - 1],
      y0: xPos, y1: xPos, line: {color: '#000', width: 1}});
    layout.shapes.push({type: 'line', xref: 'paper', yref: ya, x0: yPos, x1: yPos, y0: yt[0], y1: yt[yt.length - 1],
      line: {color: '#000', width: 1}});
  });
});

Plotly.newPlot('chart', data, layout, {staticPlot: true, displayModeBar: false});
</script>
</body></html>
